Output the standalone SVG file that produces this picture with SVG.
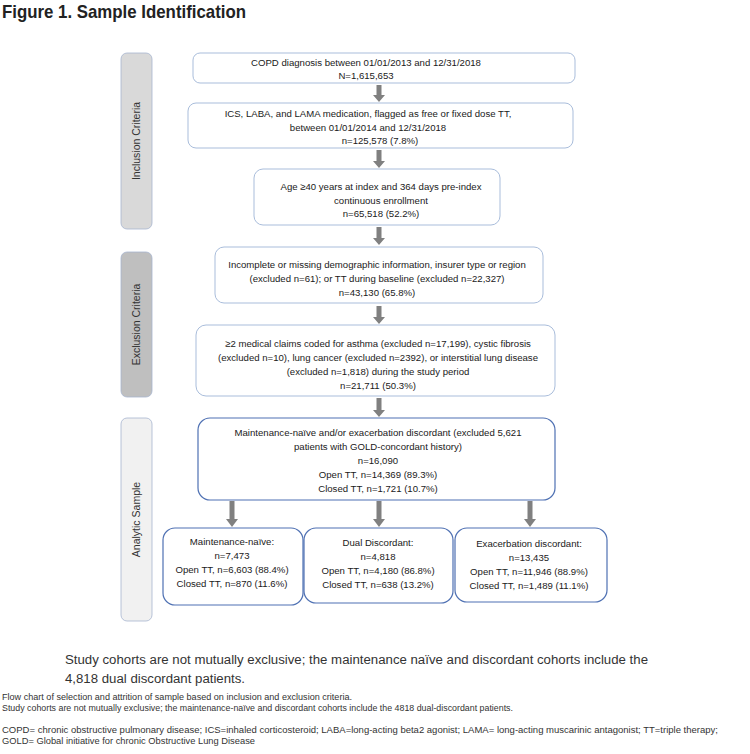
<svg xmlns="http://www.w3.org/2000/svg" width="750" height="754" viewBox="0 0 750 754">
<style>
.t{font-family:"Liberation Sans",Arial,sans-serif;font-size:9.6px;fill:#1a1a1a;text-anchor:middle}
.side{stroke:#a7b5cf;stroke-width:0.8}
.sl{font-family:"Liberation Sans",Arial,sans-serif;font-size:10.5px;fill:#333;text-anchor:middle}
.b{fill:#fff;stroke:#a9bddb;stroke-width:1}
.bd{fill:#fff;stroke:#4f71b3;stroke-width:1.2}
.ar{fill:#808080}
.cap{font-family:"Liberation Sans",Arial,sans-serif;font-size:8.6px;fill:#333}
</style>
<rect width="750" height="754" fill="#fff"/>
<text x="2" y="18" font-family="Liberation Sans,Arial,sans-serif" font-weight="bold" font-size="18.5" fill="#222" textLength="244" lengthAdjust="spacingAndGlyphs">Figure 1. Sample Identification</text>

<g id="side-inclusion">
<rect class="side" x="121" y="53" width="31" height="176" rx="6" fill="#d9d9d9"/>
<text class="sl" transform="translate(140,141) rotate(-90)">Inclusion Criteria</text>
</g>
<g id="side-exclusion">
<rect class="side" x="121" y="252" width="31" height="145" rx="6" fill="#bfbfbf"/>
<text class="sl" transform="translate(140,324.5) rotate(-90)">Exclusion Criteria</text>
</g>
<g id="side-analytic">
<rect class="side" x="121" y="418" width="31" height="203" rx="6" fill="#f1f1f1"/>
<text class="sl" transform="translate(140,519.5) rotate(-90)">Analytic Sample</text>
</g>

<g id="connectors">
<path class="ar" d="M376.5,85H381.5V95H385L379,102L373,95H376.5Z"/>
<path class="ar" d="M376.5,150H381.5V161H385L379,168L373,161H376.5Z"/>
<path class="ar" d="M376.5,227H381.5V238H385L379,245L373,238H376.5Z"/>
<path class="ar" d="M376.5,306H381.5V317H385L379,324L373,317H376.5Z"/>
<path class="ar" d="M376.5,398H381.5V410H385L379,417L373,410H376.5Z"/>
<path class="ar" d="M229.5,501H234.5V519H238L232,527L226,519H229.5Z"/>
<path class="ar" d="M376.5,501H381.5V519H385L379,527L373,519H376.5Z"/>
<path class="ar" d="M527.5,501H532.5V519H536L530,527L524,519H527.5Z"/>
</g>

<g id="box1">
<rect class="b" x="193" y="53" width="382" height="30" rx="7"/>
<text class="t" x="366" y="66">COPD diagnosis between 01/01/2013 and 12/31/2018</text>
<text class="t" x="366" y="79">N=1,615,653</text>
</g>
<g id="box2">
<rect class="b" x="188" y="103" width="385" height="45" rx="8"/>
<text class="t" x="368" y="117">ICS, LABA, and LAMA medication, flagged as free or fixed dose TT,</text>
<text class="t" x="368" y="130.5">between 01/01/2014 and 12/31/2018</text>
<text class="t" x="380" y="144">n=125,578 (7.8%)</text>
</g>
<g id="box3">
<rect class="b" x="254" y="169" width="246" height="56" rx="9"/>
<text class="t" x="381" y="190">Age ≥40 years at index and 364 days pre-index</text>
<text class="t" x="381" y="203.5">continuous enrollment</text>
<text class="t" x="381" y="217">n=65,518 (52.2%)</text>
</g>
<g id="box4">
<rect class="b" x="215" y="247" width="328" height="56" rx="9"/>
<text class="t" x="377" y="267.5">Incomplete or missing demographic information, insurer type or region</text>
<text class="t" x="377" y="281.5">(excluded n=61); or TT during baseline (excluded n=22,327)</text>
<text class="t" x="377" y="295.5">n=43,130 (65.8%)</text>
</g>
<g id="box5">
<rect class="b" x="196" y="325" width="359" height="71" rx="10"/>
<text class="t" x="378" y="346.5">≥2 medical claims coded for asthma (excluded n=17,199), cystic fibrosis</text>
<text class="t" x="378" y="360.5">(excluded n=10), lung cancer (excluded n=2392), or interstitial lung disease</text>
<text class="t" x="378" y="374.5">(excluded n=1,818) during the study period</text>
<text class="t" x="378" y="388.5">n=21,711 (50.3%)</text>
</g>
<g id="box6">
<rect class="bd" x="198" y="418" width="357" height="82" rx="12"/>
<text class="t" x="378" y="435.5">Maintenance-naïve and/or exacerbation discordant (excluded 5,621</text>
<text class="t" x="378" y="449.5">patients with GOLD-concordant history)</text>
<text class="t" x="378" y="463.5">n=16,090</text>
<text class="t" x="378" y="477.5">Open TT, n=14,369 (89.3%)</text>
<text class="t" x="378" y="492">Closed TT, n=1,721 (10.7%)</text>
</g>
<g id="box-naive">
<rect class="bd" x="163" y="528" width="140" height="77" rx="12"/>
<text class="t" x="232" y="544.5">Maintenance-naïve:</text>
<text class="t" x="232" y="559">n=7,473</text>
<text class="t" x="232" y="573">Open TT, n=6,603 (88.4%)</text>
<text class="t" x="232" y="587">Closed TT, n=870 (11.6%)</text>
</g>
<g id="box-dual">
<rect class="bd" x="304" y="528" width="149" height="75" rx="12"/>
<text class="t" x="378" y="546">Dual Discordant:</text>
<text class="t" x="378" y="560">n=4,818</text>
<text class="t" x="378" y="574">Open TT, n=4,180 (86.8%)</text>
<text class="t" x="378" y="588">Closed TT, n=638 (13.2%)</text>
</g>
<g id="box-exac">
<rect class="bd" x="455" y="528" width="152" height="74" rx="12"/>
<text class="t" x="529" y="546.5">Exacerbation discordant:</text>
<text class="t" x="529" y="560.5">n=13,435</text>
<text class="t" x="529" y="575">Open TT, n=11,946 (88.9%)</text>
<text class="t" x="529" y="589">Closed TT, n=1,489 (11.1%)</text>
</g>

<g id="notes">
<text x="65" y="664" font-family="Liberation Sans,Arial,sans-serif" font-size="12.5" fill="#333" textLength="583" lengthAdjust="spacingAndGlyphs">Study cohorts are not mutually exclusive; the maintenance naïve and discordant cohorts include the</text>
<text x="65" y="683" font-family="Liberation Sans,Arial,sans-serif" font-size="12.5" fill="#333" textLength="180" lengthAdjust="spacingAndGlyphs">4,818 dual discordant patients.</text>
<text class="cap" x="2" y="700" textLength="350" lengthAdjust="spacingAndGlyphs">Flow chart of selection and attrition of sample based on inclusion and exclusion criteria.</text>
<text class="cap" x="2" y="711" textLength="511" lengthAdjust="spacingAndGlyphs">Study cohorts are not mutually exclusive; the maintenance-naïve and discordant cohorts include the 4818 dual-discordant patients.</text>
<text class="cap" x="2" y="733" textLength="716" lengthAdjust="spacingAndGlyphs">COPD= chronic obstructive pulmonary disease; ICS=inhaled corticosteroid; LABA=long-acting beta2 agonist; LAMA= long-acting muscarinic antagonist; TT=triple therapy;</text>
<text class="cap" x="2" y="744" textLength="253" lengthAdjust="spacingAndGlyphs">GOLD= Global initiative for chronic Obstructive Lung Disease</text>
</g>
</svg>
